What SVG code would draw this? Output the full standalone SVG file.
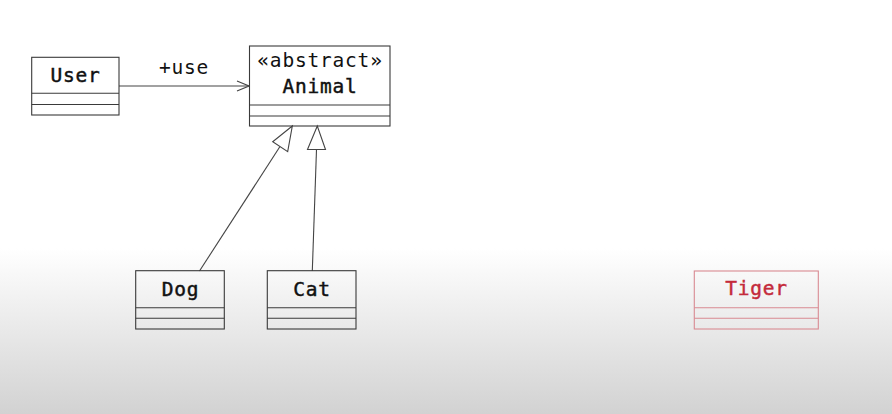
<svg xmlns="http://www.w3.org/2000/svg" width="892" height="414" viewBox="0 0 892 414">
<defs>
<linearGradient id="bg" x1="0" y1="0" x2="0" y2="1">
<stop offset="0" stop-color="#ffffff"/>
<stop offset="0.6" stop-color="#ffffff"/>
<stop offset="1" stop-color="#d2d2d2"/>
</linearGradient>
<marker id="open" markerWidth="14" markerHeight="12" refX="13" refY="6" orient="auto" markerUnits="userSpaceOnUse">
<path d="M1,1 L13,6 L1,11" fill="none" stroke="#444" stroke-width="1.1"/>
</marker>
</defs>
<style>
.box{fill:none;stroke:#3a3a3a;stroke-width:1.1}
.red{fill:none;stroke:#d98a92;stroke-width:1.1}
.t{font-family:"DejaVu Sans Mono","Liberation Mono",monospace;font-size:19.5px;text-anchor:middle;fill:#111;letter-spacing:0.8px}
.n{stroke:#111;stroke-width:0.45}
.rt{fill:#c42a3a;stroke:#c42a3a}
.ln{fill:none;stroke:#444;stroke-width:1.1}
.tri{fill:#fff;stroke:#444;stroke-width:1.1}
</style>
<rect x="0" y="0" width="892" height="414" fill="url(#bg)"/>
<g id="connectors">
<line class="ln" x1="119" y1="86" x2="249" y2="86" marker-end="url(#open)"/>
<text class="t" x="184" y="73.5">+use</text>
<line class="ln" x1="199.5" y1="271" x2="280" y2="146.5"/>
<polygon class="tri" points="292.3,126 272.7,141.7 287.7,151.7"/>
<line class="ln" x1="312.3" y1="271" x2="316.5" y2="149.5"/>
<polygon class="tri" points="317.3,126 307.5,149.5 325.5,149.5"/>
</g>
<g id="User">
<rect class="box" x="31.7" y="57.3" width="87.3" height="57.7"/>
<line class="box" x1="31.7" y1="93.3" x2="119" y2="93.3"/>
<line class="box" x1="31.7" y1="104.5" x2="119" y2="104.5"/>
<text class="t n" x="75.5" y="82.3">User</text>
</g>
<g id="Animal">
<rect class="box" x="249.5" y="46" width="140.5" height="80"/>
<line class="box" x1="249.5" y1="105" x2="390" y2="105"/>
<line class="box" x1="249.5" y1="116" x2="390" y2="116"/>
<text class="t" x="320" y="66.5">«abstract»</text>
<text class="t n" x="320" y="92.7">Animal</text>
</g>
<g id="Dog">
<rect class="box" x="135.7" y="270.7" width="88.6" height="58.3"/>
<line class="box" x1="135.7" y1="307.7" x2="224.3" y2="307.7"/>
<line class="box" x1="135.7" y1="318.3" x2="224.3" y2="318.3"/>
<text class="t n" x="180.5" y="296">Dog</text>
</g>
<g id="Cat">
<rect class="box" x="267.3" y="270.7" width="88.7" height="58.3"/>
<line class="box" x1="267.3" y1="307.7" x2="356" y2="307.7"/>
<line class="box" x1="267.3" y1="318.3" x2="356" y2="318.3"/>
<text class="t n" x="312" y="296">Cat</text>
</g>
<g id="Tiger">
<rect class="red" x="694.3" y="271" width="124" height="58"/>
<line class="red" x1="694.3" y1="307.7" x2="818.3" y2="307.7"/>
<line class="red" x1="694.3" y1="318.3" x2="818.3" y2="318.3"/>
<text class="t n rt" x="756.5" y="294.5">Tiger</text>
</g>
</svg>
